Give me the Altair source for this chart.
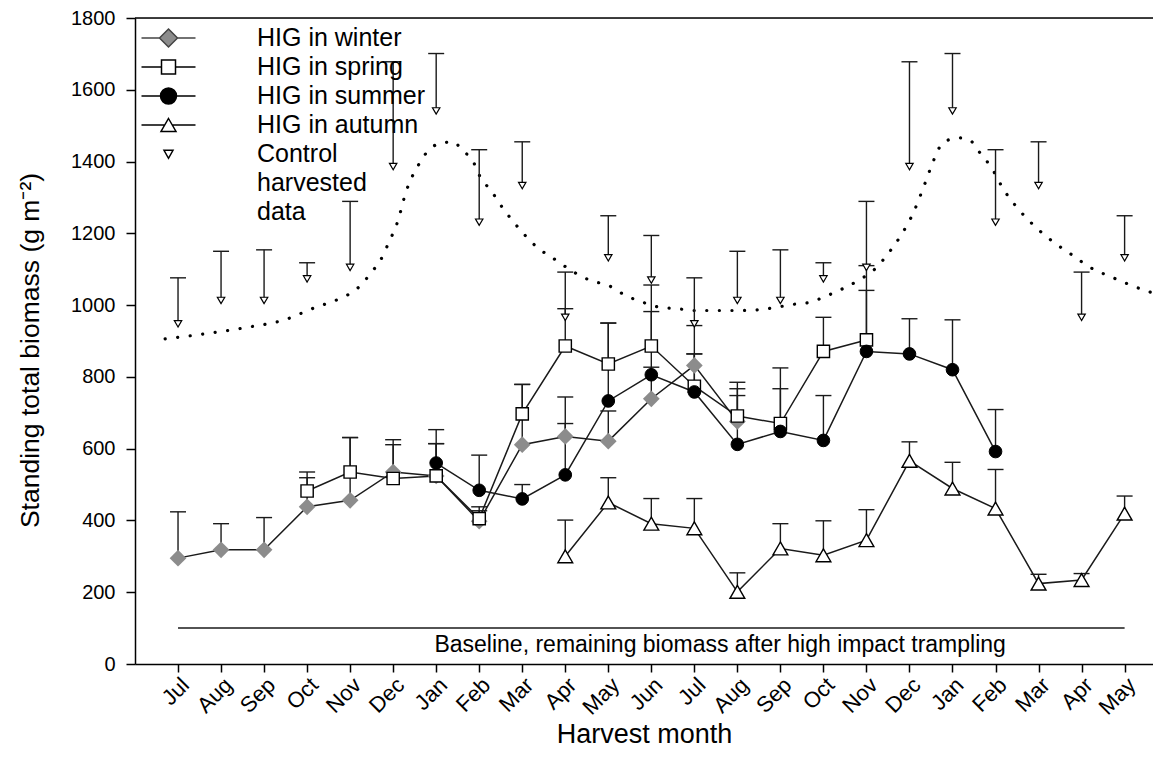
import json
import altair as alt
import pandas as pd

# ---------------- data ----------------
months = ["Jul", "Aug", "Sep", "Oct", "Nov", "Dec", "Jan", "Feb", "Mar", "Apr", "May", "Jun",
          "Jul", "Aug", "Sep", "Oct", "Nov", "Dec", "Jan", "Feb", "Mar", "Apr", "May"]

winter_start = 0
winter = [295, 318, 318, 438, 456, 535, 524, 398, 611, 634, 621, 739, 832, 676]
winter_upper = [424, 391, 408, 519, 631, 611, 614, 427, 779, 670, 705, 827, 943, 767]

spring_start = 3
spring = [482, 535, 517, 524, 405, 697, 886, 836, 886, 774, 691, 670, 871, 903]
spring_upper = [535, 631, 625, 614, 438, 779, 990, 950, 1056, 864, 785, 825, 966, 1110]

summer_start = 6
summer = [560, 484, 460, 527, 733, 806, 758, 612, 648, 623, 871, 864, 820, 592]
summer_upper = [653, 582, 500, 744, 950, 982, 864, 748, 767, 748, 1041, 962, 959, 709]

autumn_start = 9
autumn = [300, 450, 391, 378, 201, 322, 303, 345, 566, 489, 433, 224, 234, 419]
autumn_upper = [401, 519, 461, 461, 254, 391, 399, 430, 619, 562, 542, 250, 252, 468]

control_start = 0
control = [948, 1013, 1013, 1073, 1105, 1386, 1541, 1231, 1333, 966, 1132, 1070,
           948, 1013, 1013, 1073, 1105, 1386, 1541, 1231, 1333, 966, 1132]
control_upper = [1076, 1150, 1154, 1118, 1289, 1678, 1701, 1433, 1455, 1092, 1249, 1194,
                 1076, 1150, 1154, 1118, 1289, 1678, 1701, 1433, 1455, 1092, 1249]

curve_x = [-0.3, 0.5, 1.5, 2.5, 3.2, 3.7, 4.2, 4.5, 4.7, 4.9, 5.1, 5.3, 5.6, 5.9, 6.2, 6.4,
           6.6, 6.85, 7.05, 7.25, 7.55, 7.9, 8.3, 8.8, 9.2, 9.6, 10.0, 10.4, 10.8, 11.2,
           11.6, 12.0, 12.5, 13.0, 13.5, 13.9, 14.3, 14.7, 15.0, 15.4, 15.8, 16.2, 16.5,
           16.8, 17.1, 17.3, 17.5, 17.7, 17.9, 18.15, 18.4, 18.6, 18.9, 19.2, 19.5, 19.9,
           20.3, 20.8, 21.2, 21.7, 22.2, 22.6]
curve_y = [906, 918, 936, 960, 994, 1015, 1050, 1092, 1124, 1175, 1231, 1316, 1393, 1440,
           1453, 1455, 1432, 1402, 1351, 1323, 1270, 1217, 1166, 1124, 1092, 1068, 1055,
           1027, 1008, 994, 990, 985, 985, 985, 987, 994, 1002, 1008, 1022, 1043, 1068,
           1101, 1143, 1194, 1260, 1320, 1384, 1440, 1460, 1466, 1460, 1430, 1384, 1320,
           1272, 1221, 1180, 1138, 1105, 1078, 1053, 1036]

baseline_value = 100
baseline_text = "Baseline, remaining biomass after high impact trampling"

legend_items = ["HIG in winter", "HIG in spring", "HIG in summer", "HIG in autumn",
                "Control", "harvested", "data"]

y_max = 1800

# ---------------- styling ----------------
FONT = "Liberation Sans"
INK = "#1a1a1a"

xscale = alt.Scale(domain=[-1, 22.66], nice=False, zero=False)
yscale = alt.Scale(domain=[0, y_max], nice=False)

label_expr = json.dumps(months) + "[datum.value]"
xaxis = alt.Axis(values=list(range(len(months))), labelExpr=label_expr, labelAngle=-45,
                 labelOverlap=False, labelBound=False,
                 labelFontSize=22, labelFont=FONT, labelColor="black", labelPadding=2,
                 tickSize=8, tickWidth=1.5, tickColor="black",
                 domainColor="black", domainWidth=1.5, grid=False,
                 title="Harvest month", titleFontSize=27, titleFont=FONT,
                 titleFontWeight="normal", titleColor="black",
                 titleY=70, titleBaseline="middle")
yaxis = alt.Axis(values=list(range(0, y_max + 1, 200)), format="d", labelFontSize=20,
                 labelFont=FONT, labelColor="black", labelPadding=11, tickSize=9,
                 tickWidth=1.5, tickColor="black", domainColor="black", domainWidth=1.5,
                 grid=False, title="Standing total biomass (g m\u207b\u00b2)",
                 titleFontSize=26.5, titleFont=FONT, titleFontWeight="normal",
                 titleColor="black", titleX=-105, titleY=332, titleBaseline="middle",
                 titleAngle=-90)


def X(field="x"):
    return alt.X(field, type="quantitative", scale=xscale, axis=xaxis)


def Y(field="y"):
    return alt.Y(field, type="quantitative", scale=yscale, axis=yaxis)


def frame(start, vals, upper):
    return pd.DataFrame({"x": list(range(start, start + len(vals))), "y": vals, "y2": upper})


layers = []

# top frame line
layers.append(alt.Chart(pd.DataFrame({"y": [y_max]})).mark_rule(color="black", strokeWidth=1.5)
              .encode(y=Y()))

# dotted control curve
layers.append(alt.Chart(pd.DataFrame({"x": curve_x, "y": curve_y}))
              .mark_line(color="black", strokeWidth=3.2, strokeDash=[0.1, 12.5],
                         strokeCap="round", interpolate="monotone")
              .encode(x=X(), y=Y()))

# baseline
base_df = pd.DataFrame({"x": [0], "x2": [len(months) - 1], "y": [baseline_value]})
layers.append(alt.Chart(base_df).mark_rule(color=INK, strokeWidth=1.5)
              .encode(x=X(), x2="x2:Q", y=Y()))
layers.append(alt.Chart(pd.DataFrame({"x": [12.6], "y": [53], "t": [baseline_text]}))
              .mark_text(font=FONT, fontSize=23, color="black", align="center",
                         baseline="middle")
              .encode(x=X(), y=Y(), text="t:N"))

series = [
    (winter_start, winter, winter_upper,
     dict(shape="diamond", size=280, fill="#8c8c8c", strokeWidth=0, filled=True), True),
    (spring_start, spring, spring_upper,
     dict(shape="square", size=150, fill="white", stroke="black", strokeWidth=1.4,
          filled=False), True),
    (summer_start, summer, summer_upper,
     dict(shape="circle", size=160, fill="black", stroke="black", strokeWidth=1,
          filled=True), True),
    (autumn_start, autumn, autumn_upper,
     dict(shape="triangle-up", size=220, fill="white", stroke="black", strokeWidth=1.4,
          filled=False), True),
    (control_start, control, control_upper,
     dict(shape="triangle-down", size=55, fill="white", stroke="black", strokeWidth=1.2,
          filled=False), False),
]

err_layers, line_layers, point_layers = [], [], []
for start, vals, upper, style, has_line in series:
    df = frame(start, vals, upper)
    base = alt.Chart(df)
    err_layers.append(base.mark_rule(color=INK, strokeWidth=1.4)
                      .encode(x=X(), y=Y(), y2="y2:Q"))
    err_layers.append(base.mark_rule(color=INK, strokeWidth=1.4, xOffset=-8, x2Offset=8)
                      .encode(x=X(), x2="x:Q", y=Y("y2")))
    if has_line:
        line_layers.append(base.mark_line(color=INK, strokeWidth=1.5).encode(x=X(), y=Y()))
    point_layers.append(base.mark_point(opacity=1, **style).encode(x=X(), y=Y()))

layers += err_layers + line_layers + point_layers

# legend (invisible carrier layer; symbols drawn by the legend itself)
legend_shapes = [
    "M-5.4,0H-1.8M1.8,0H5.4M0,-1.8L1.8,0L0,1.8L-1.8,0Z",
    "M-5.4,0H-1.4M1.4,0H5.4M-1.4,-1.4H1.4V1.4H-1.4Z",
    "M-5.4,0H-1.6M1.6,0H5.4M-1.6,0A1.6,1.6,0,1,0,1.6,0A1.6,1.6,0,1,0,-1.6,0Z",
    "M-5.4,0H-0.75M0.75,0H5.4M0,-1.3L1.5,1.3L-1.5,1.3Z",
    "M-0.9,-0.75L0.9,-0.75L0,0.85Z",
    "M0,0",
    "M0,0",
]
legend_fill = ["#8c8c8c", "white", "black", "white", "white", "white", "white"]
legend_stroke = ["#444444", "black", "black", "black", "black", "white", "white"]

leg = alt.Legend(orient="none", legendX=21, legendY=7.5, title=None, padding=0,
                 labelFont=FONT, labelFontSize=25, labelColor="black", labelOffset=76,
                 symbolSize=100, symbolStrokeWidth=1.5, rowPadding=3, labelLimit=400,
                 symbolFillColor="white", symbolStrokeColor="black", symbolOpacity=1)
legend_layer = (alt.Chart(pd.DataFrame({"item": legend_items}))
                .mark_point(opacity=0, filled=True)
                .encode(fill=alt.Fill("item:N", scale=alt.Scale(domain=legend_items,
                                                                range=legend_fill),
                                      legend=leg),
                        stroke=alt.Stroke("item:N", scale=alt.Scale(domain=legend_items,
                                                                    range=legend_stroke),
                                          legend=leg),
                        shape=alt.Shape("item:N", scale=alt.Scale(domain=legend_items,
                                                                  range=legend_shapes),
                                        legend=leg)))
layers.append(legend_layer)

chart = (alt.layer(*layers)
         .properties(width=1018, height=646,
                     autosize=alt.AutoSizeParams(type="none"),
                     padding={"left": 127, "top": 10, "right": 0, "bottom": 90})
         .configure_view(stroke=None)
         .configure(background="white"))

chart.save("out.html", embed_options={"renderer": "svg", "actions": False})
